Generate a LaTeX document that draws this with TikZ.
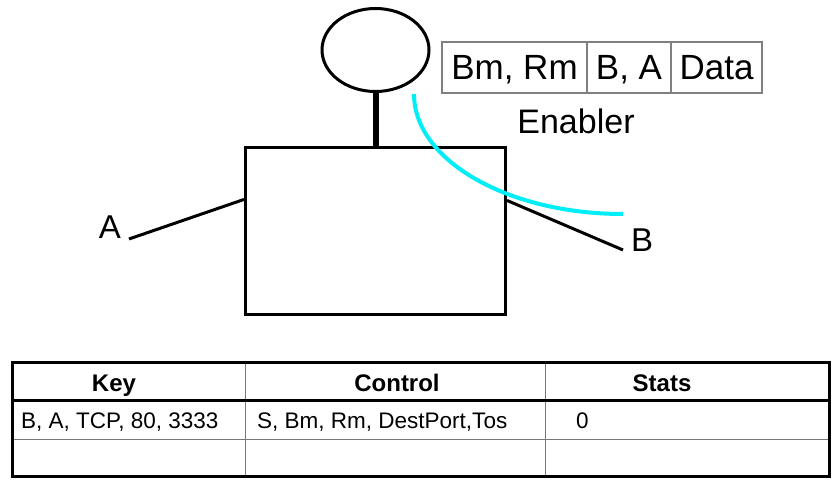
\documentclass[tikz,border=0pt]{standalone}
\usepackage{fontspec}
\setmainfont{Liberation Sans}
\usetikzlibrary{shapes.geometric,calc}
\definecolor{cyanline}{RGB}{0,238,248}
\definecolor{cellgray}{RGB}{128,128,128}
\definecolor{tablegray}{RGB}{120,120,120}
\begin{document}
\begin{tikzpicture}[x=1pt,y=-1pt,
  thickline/.style={line width=3pt},
  hcell/.style={draw=cellgray, line width=1.2pt, rectangle, minimum height=51pt, inner sep=0pt,
    text height=25pt, text depth=0pt, font=\fontsize{35}{40}\selectfont},
  biglabel/.style={inner sep=0pt, font=\fontsize{33}{38}\selectfont},
  headtext/.style={anchor=base, inner sep=0pt, font=\fontsize{24}{28}\selectfont\bfseries},
  celltext/.style={anchor=base west, inner sep=0pt, font=\fontsize{22.5}{26}\selectfont}]
\useasboundingbox (0,0) rectangle (840,486);

% figure
\node[draw, thickline, ellipse, minimum width=107pt, minimum height=83pt, inner sep=0pt] (head) at (375.5,50) {};
\node[draw, thickline, rectangle, minimum width=260pt, minimum height=166.5pt, inner sep=0pt] (box) at (375.5,231.2) {};
\draw[line width=6pt] (head.south) -- (box.north);

\coordinate (aend) at (129,239);
\coordinate (bend) at (623,250);
\draw[thickline] (aend) -- ([yshift=-53pt]box.north west);
\draw[thickline] ([yshift=-54pt]box.north east) -- (bend);
\node[biglabel] (la) at (110,227) {A};
\node[biglabel] (lb) at (642,240) {B};

\coordinate (cstart) at (414,94);
\coordinate (cend) at (623,214);
\draw[cyanline, line width=4pt] (cstart) .. controls (414,160.3) and (507.6,214) .. (cend);

% packet header
\node[hcell, minimum width=145pt] (h1) at (514.5,67.5) {Bm, Rm};
\node[hcell, minimum width=84pt] (h2) at (629,67.5) {B, A};
\node[hcell, minimum width=91pt] (h3) at (716.5,67.5) {Data};
\node[inner sep=0pt, font=\fontsize{34}{38}\selectfont] (en) at (576,121) {Enabler};

% table
\draw[tablegray, line width=1pt] (245.5,362) -- (245.5,476);
\draw[tablegray, line width=1pt] (545,362) -- (545,476);
\draw[tablegray, line width=1pt] (12,439) -- (830,439);
\draw[line width=2.5pt] (12,400.7) -- (830,400.7);
\draw[line width=3pt] (12.5,362.5) rectangle (829.5,476.2);

\node[headtext] (tk) at (114,391) {Key};
\node[headtext] (tc) at (397,391) {Control};
\node[headtext] (ts) at (662,391) {Stats};
\node[celltext] (r1) at (21,428) {B, A, TCP, 80, 3333};
\node[celltext] (r2) at (257,428) {S, Bm, Rm, DestPort,Tos};
\node[celltext] (r3) at (576,428) {0};
\end{tikzpicture}
\end{document}
